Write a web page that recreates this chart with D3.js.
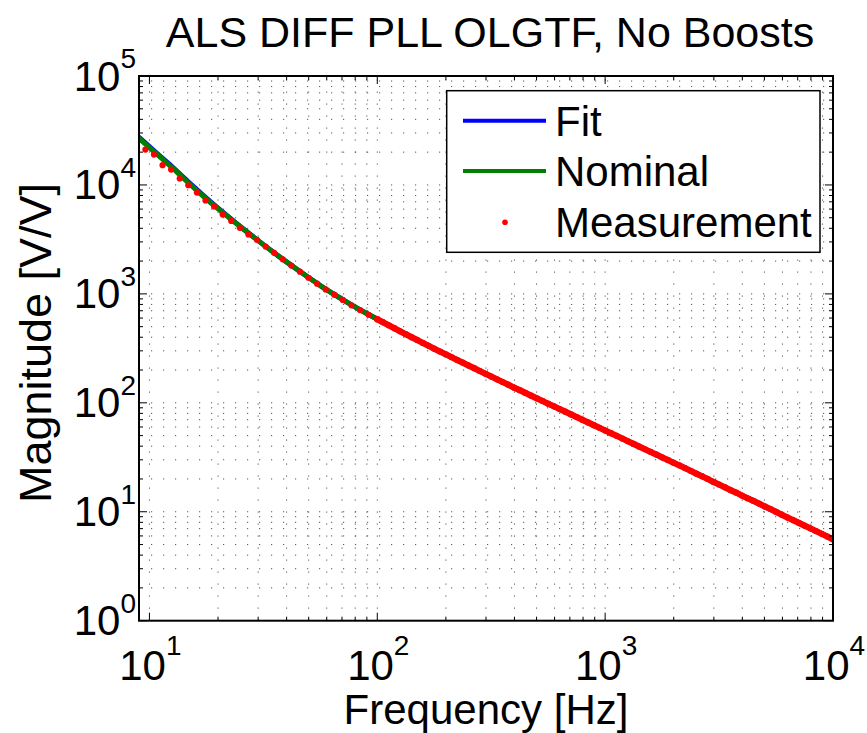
<!DOCTYPE html>
<html><head><meta charset="utf-8">
<script src="https://cdn.jsdelivr.net/npm/d3@7"></script>
<style>body{margin:0;background:#fff}svg{display:block}text{font-family:"Liberation Sans",Arial,Helvetica,sans-serif;fill:#000}</style>
</head><body><svg id="c" width="867" height="733"></svg>
<script>
// ---- data ----
const titleText = "ALS DIFF PLL OLGTF, No Boosts";
const xLabelText = "Frequency [Hz]";
const yLabelText = "Magnitude [V/V]";
const legendLabels = ["Fit", "Nominal", "Measurement"];
const xTickExps = [1, 2, 3, 4];
const yTickExps = [0, 1, 2, 3, 4, 5];

const lineFreq = [8.913,10,11.22,12.59,14.13,15.85,17.78,19.95,22.39,25.12,28.18,31.62,35.48,39.81,44.67,50.12,56.23,63.10,70.79,79.43,89.13,
  100,112.2,125.9,141.3,158.5,177.8,199.5,223.9,251.2,281.8,316.2,354.8,398.1,446.7,501.2,562.3,631.0,707.9,794.3,891.3,
  1000,1122,1259,1413,1585,1778,1995,2239,2512,2818,3162,3548,3981,4467,5012,5623,6310,7079,7943,8913,10000];
const nominalMag = [27230,22030,17780,14390,11450,9200,7432,6083,5001,4122,3413,2832,2361,1977,1664,1406,1192,1020,880,764,667,
  586,515,454,401,355,314,279,248,220,196,174,155,138,123,110,98.2,87.7,78.3,69.8,62.4,
  55.7,49.8,44.4,39.6,35.4,31.6,28.2,25.2,22.4,20.0,17.8,15.8,14.1,12.6,11.2,9.98,8.87,7.91,7.05,6.28,5.58];
const fitMag = [27780,22470,18130,14680,11680,9380,7560,6150,5030,4130,3413,2832,2361,1977,1664,1406,1192,1020,880,764,667,
  586,515,454,401,355,314,279,248,220,196,174,155,138,123,110,98.2,87.7,78.3,69.8,62.4,
  55.7,49.8,44.4,39.6,35.4,31.6,28.2,25.2,22.4,20.0,17.8,15.8,14.1,12.6,11.2,9.98,8.87,7.91,7.05,6.28,5.58];

// low-resolution sweep (separate dots)
const measLowFreq = [9.60,10.47,11.42,12.45,13.58,14.81,16.16,17.62,19.22,20.96,22.86,24.93,27.19,29.65,32.34,35.27,38.46,41.95,45.75,49.89,54.41,59.34,64.72,70.58,76.98,83.95,91.56,99.86];
const measLowMag = [21130,19010,15170,13840,11460,9931,8511,7194,6339,5346,4677,4036,3508,3133,2723,2377,2080,1820,1600,1406,1242,1099,984,880,785,710,643,585];
// high-resolution sweep (dots merge into a band)
const measHighFreq = [100,105.9,112.2,118.9,125.9,133.4,141.3,149.6,158.5,167.9,177.8,188.4,199.5,211.3,223.9,237.1,251.2,266.1,281.8,298.5,
  316.2,335.0,354.8,375.8,398.1,421.7,446.7,473.2,501.2,530.9,562.3,595.7,631.0,668.3,707.9,749.9,794.3,841.4,891.3,944.1,
  1000,1059,1122,1189,1259,1334,1413,1496,1585,1679,1778,1884,1995,2113,2239,2371,2512,2661,2818,2985,
  3162,3350,3548,3758,3981,4217,4467,4732,5012,5309,5623,5957,6310,6683,7079,7499,7943,8414,8913,9441,10000];
const measHighMag = [586.1,549.5,515.2,484.2,453.9,426.6,400.9,377.6,354.8,334.2,314.1,295.8,278.6,263.0,247.7,233.9,220.3,208.0,195.9,184.9,
  174.2,164.4,155.2,146.6,138.0,130.6,123.3,116.4,109.9,104.0,98.2,92.9,87.7,83.0,78.3,74.0,69.8,66.1,62.4,59.0,
  55.7,52.7,49.8,47.0,44.4,42.0,39.6,37.5,35.4,33.5,31.6,29.9,28.2,26.7,25.2,23.8,22.4,21.2,20.0,18.8,
  17.8,16.8,15.8,15.0,14.1,13.3,12.6,11.9,11.2,10.6,9.98,9.40,8.87,8.38,7.91,7.46,7.05,6.65,6.28,5.92,5.58];

const colors = {fit:"#0000ff", nominal:"#008000", meas:"#ff0000"};

// ---- layout ----
const m = {l:139, r:833, t:76, b:620.7};
const svg = d3.select("#c");
const x = d3.scaleLog().domain([9, 1e4]).range([m.l, m.r]);
const y = d3.scaleLog().domain([1, 1e5]).range([m.b, m.t]);

svg.append("defs").append("clipPath").attr("id","clip")
  .append("rect").attr("x",m.l).attr("y",m.t).attr("width",m.r-m.l).attr("height",m.b-m.t);

// minor+major tick values
const xAll = [], yAll = [];
for (let e = 1; e <= 4; e++) for (let k = 1; k <= 9; k++) { const v = k*Math.pow(10,e-1); if (v >= 9 && v <= 1e4) xAll.push(v); }
for (let e = 0; e <= 5; e++) for (let k = 1; k <= 9; k++) { const v = k*Math.pow(10,e); if (v <= 1e5) yAll.push(v); }
const isMajor = v => Math.abs(Math.log10(v) - Math.round(Math.log10(v))) < 1e-9;

// grid
const grid = svg.append("g").attr("stroke","#555").attr("stroke-width",1).attr("stroke-dasharray","1.2,10.8").attr("fill","none");
grid.selectAll("line.h").data(yAll).join("line")
  .attr("x1",m.l).attr("x2",m.r).attr("y1",d=>y(d)).attr("y2",d=>y(d));
grid.selectAll("line.v").data(xAll).join("line")
  .attr("x1",d=>x(d)).attr("x2",d=>x(d)).attr("y1",m.b).attr("y2",m.t);

// series
const plot = svg.append("g").attr("clip-path","url(#clip)");
const lineGen = d3.line().x(d=>x(d[0])).y(d=>y(d[1])).curve(d3.curveMonotoneX);
plot.append("path").datum(d3.zip(lineFreq, fitMag)).attr("d",lineGen)
  .attr("fill","none").attr("stroke",colors.fit).attr("stroke-width",5);
plot.append("path").datum(d3.zip(lineFreq, nominalMag)).attr("d",lineGen)
  .attr("fill","none").attr("stroke",colors.nominal).attr("stroke-width",5);
plot.selectAll("circle.lo").data(d3.zip(measLowFreq, measLowMag)).join("circle")
  .attr("cx",d=>x(d[0])).attr("cy",d=>y(d[1])).attr("r",3.1).attr("fill",colors.meas);
// dense sweep: overlapping dots form a continuous band
const denseGen = d3.line().x(d=>x(d[0])).y(d=>y(d[1]));
plot.append("path").datum(d3.zip(measHighFreq, measHighMag)).attr("d",denseGen)
  .attr("fill","none").attr("stroke",colors.meas).attr("stroke-width",6.2).attr("stroke-linecap","round");
plot.selectAll("circle.hi").data(d3.zip(measHighFreq, measHighMag)).join("circle")
  .attr("cx",d=>x(d[0])).attr("cy",d=>y(d[1])).attr("r",3.1).attr("fill",colors.meas);

// ticks (inside, all four sides)
const tk = svg.append("g").attr("stroke","#000").attr("stroke-width",1);
xAll.filter(v=>v>=10).forEach(v=>{
  const L = isMajor(v) ? 8 : 4;
  tk.append("line").attr("x1",x(v)).attr("x2",x(v)).attr("y1",m.b).attr("y2",m.b-L);
  tk.append("line").attr("x1",x(v)).attr("x2",x(v)).attr("y1",m.t).attr("y2",m.t+L);
});
yAll.forEach(v=>{
  const L = isMajor(v) ? 8 : 4;
  tk.append("line").attr("y1",y(v)).attr("y2",y(v)).attr("x1",m.l).attr("x2",m.l+L);
  tk.append("line").attr("y1",y(v)).attr("y2",y(v)).attr("x1",m.r).attr("x2",m.r-L);
});

// box
svg.append("rect").attr("x",m.l).attr("y",m.t).attr("width",m.r-m.l).attr("height",m.b-m.t)
  .attr("fill","none").attr("stroke","#000").attr("stroke-width",2);

// tick labels
xTickExps.forEach(e=>{
  const t = svg.append("text").attr("x",x(Math.pow(10,e))+1).attr("y",680).attr("text-anchor","middle").attr("font-size",42);
  t.append("tspan").text("10");
  t.append("tspan").attr("dy",-25).attr("font-size",28).text(e);
});
yTickExps.forEach(e=>{
  const yy = y(Math.pow(10,e));
  const t = svg.append("text").attr("x",136).attr("y",yy+14.5).attr("text-anchor","end").attr("font-size",42);
  t.append("tspan").text("10");
  t.append("tspan").attr("dy",-22.5).attr("font-size",28).text(e);
});

// titles
svg.append("text").attr("x",(m.l+m.r)/2+4).attr("y",47).attr("text-anchor","middle").attr("font-size",43).text(titleText);
svg.append("text").attr("x",(m.l+m.r)/2).attr("y",724).attr("text-anchor","middle").attr("font-size",42).text(xLabelText);
svg.append("text").attr("transform",`translate(51,343) rotate(-90)`).attr("text-anchor","middle").attr("font-size",45).text(yLabelText);

// legend
const lg = svg.append("g");
lg.append("rect").attr("x",446.7).attr("y",90.7).attr("width",373.3).attr("height",161.6)
  .attr("fill","#fff").attr("stroke","#000").attr("stroke-width",1.5);
const rowY = [120.7, 171, 221.5];
lg.append("line").attr("x1",463).attr("x2",546).attr("y1",rowY[0]).attr("y2",rowY[0]).attr("stroke",colors.fit).attr("stroke-width",4);
lg.append("line").attr("x1",463).attr("x2",546).attr("y1",rowY[1]).attr("y2",rowY[1]).attr("stroke",colors.nominal).attr("stroke-width",4);
lg.append("circle").attr("cx",505).attr("cy",rowY[2]+0.8).attr("r",2.8).attr("fill",colors.meas);
legendLabels.forEach((s,i)=>{
  lg.append("text").attr("x",555).attr("y",rowY[i]+15).attr("font-size",42).text(s);
});
</script>
</body></html>
